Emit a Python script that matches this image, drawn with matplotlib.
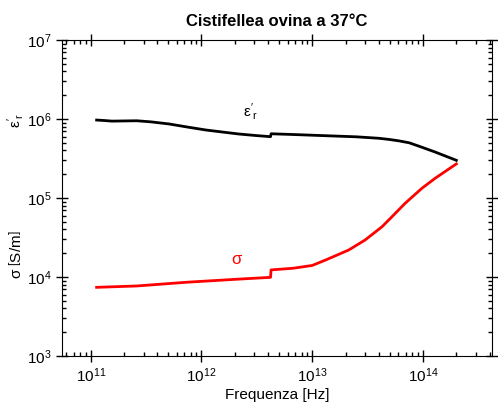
import matplotlib
matplotlib.use("Agg")
import matplotlib.pyplot as plt
import numpy as np

plt.rcParams['font.family'] = ['Liberation Sans', 'DejaVu Sans']
plt.rcParams['mathtext.fontset'] = 'custom'
plt.rcParams['mathtext.rm'] = 'Liberation Sans'
plt.rcParams['mathtext.it'] = 'Liberation Sans'

# permittivity (real part)
freq_eps = [1.13e11, 1.35e11, 1.55e11, 2.0e11, 2.6e11, 3.5e11, 5.1e11, 7.5e11,
            1.1e12, 1.6e12, 2.17e12, 3.0e12, 4.2e12, 4.25e12, 7.0e12, 1.3e13,
            2.5e13, 4.0e13, 5.0e13, 6.0e13, 7.5e13, 9.1e13, 1.3e14, 2.0e14]
eps_r = [0.97e6, 0.955e6, 0.94e6, 0.945e6, 0.95e6, 0.92e6, 0.865e6, 0.79e6,
         0.725e6, 0.68e6, 0.646e6, 0.62e6, 0.597e6, 0.65e6, 0.635e6, 0.615e6,
         0.595e6, 0.57e6, 0.55e6, 0.53e6, 0.50e6, 0.455e6, 0.38e6, 0.30e6]

# conductivity
freq_sig = [1.13e11, 2.6e11, 7.5e11, 2.17e12, 4.2e12, 4.25e12, 6.7e12,
            1.0e13, 1.32e13, 2.14e13, 3.0e13, 4.27e13, 5.25e13, 6.9e13,
            9.8e13, 1.29e14, 2.0e14]
sigma = [7.4e3, 7.7e3, 8.6e3, 9.4e3, 9.9e3, 1.23e4, 1.29e4,
         1.4e4, 1.64e4, 2.2e4, 2.94e4, 4.33e4, 5.8e4, 8.57e4,
         1.33e5, 1.78e5, 2.7e5]

fig = plt.figure(figsize=(4.98, 4.08), dpi=100)
ax = fig.add_axes([62/498, 1-356/408, 430/498, 316/408])

ax.plot(freq_eps, eps_r, color='black', lw=2)
ax.plot(freq_sig, sigma, color='red', lw=2)

ax.set_xscale('log')
ax.set_yscale('log')
ax.set_xlim(5.5e10, 4.2e14)
ax.set_ylim(1e3, 1e7)

ax.tick_params(which='major', direction='inout', length=8, width=1,
               top=True, right=True, labelsize=11)
ax.tick_params(which='minor', direction='in', length=3, width=1,
               top=True, right=True)
ax.set_xlabel('Frequenza [Hz]', fontsize=11, labelpad=2)
ax.set_title('Cistifellea ovina a 37°C', fontsize=12, fontweight='bold', pad=10)

ax.text(2.8e12, 1.25e6, r"$\epsilon'_r$", fontsize=11, ha='center', va='center')
ax.text(2.1e12, 1.65e4, r'$\sigma$', fontsize=12, color='red', ha='center', va='center')

fig.text(16/498, 1-120/408, r"$\epsilon'_r$", rotation=90, fontsize=11,
         ha='center', va='center')
fig.text(16/498, 1-255/408, r'$\sigma\ \left[\mathrm{S/m}\right]$', rotation=90,
         fontsize=11, ha='center', va='center')

fig.savefig('out.png', dpi=100)
